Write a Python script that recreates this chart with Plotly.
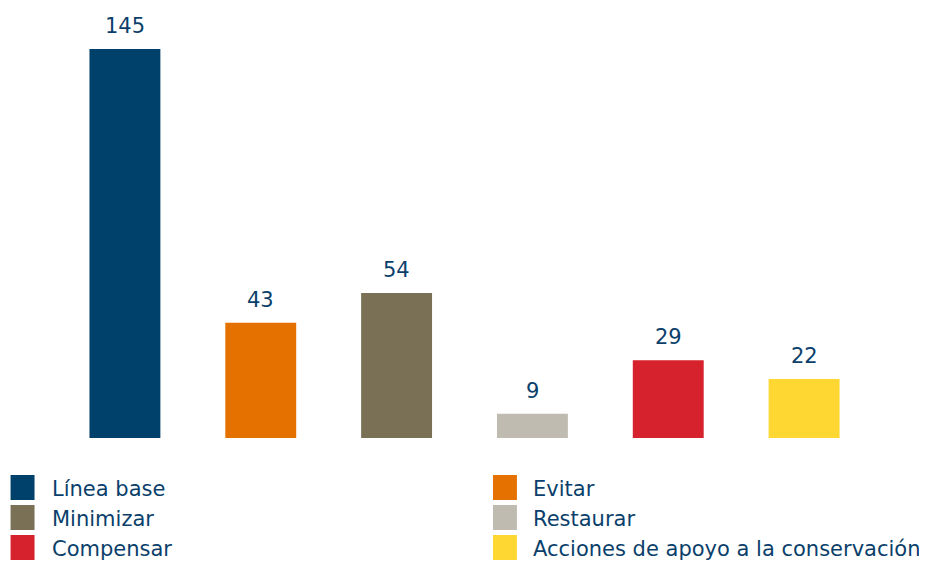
import plotly.graph_objects as go

categories = ["Línea base", "Evitar", "Minimizar", "Restaurar", "Compensar",
              "Acciones de apoyo a la conservación"]
values = [145, 43, 54, 9, 29, 22]
colors = ["#00416B", "#E57200", "#7A7055", "#BFBBB0", "#D6222D", "#FFD732"]
text_color = "#0B3F6B"
font_family = "DejaVu Sans"

OFF = 8  # page body margin
W, H = 927 - OFF, 561 - OFF
ml = 56.5 - OFF
mr = 927 - 872.5
mb = 561 - 438
mt = 0
pw, ph = W - ml - mr, H - mt - mb

def px_x(p):
    return (p - OFF - ml) / pw

def px_y(p):
    return (H - mb - (p - OFF)) / ph

x = list(range(len(categories)))
fig = go.Figure(go.Bar(x=x, y=values, marker=dict(color=colors, line=dict(width=0)),
                       showlegend=False, hoverinfo="skip"))

annotations = []
for xi, v in zip(x, values):
    annotations.append(dict(x=xi, y=v, xref="x", yref="y", text=str(v), showarrow=False,
                            yanchor="bottom", yshift=9,
                            font=dict(size=21, color=text_color, family=font_family)))

shapes = []
col_sq = [10, 493]
col_tx = [49, 531]
row_top = [475, 505, 535]
for i, (cat, col) in enumerate(zip(categories, colors)):
    r, c = divmod(i, 2)
    shapes.append(dict(type="rect", xref="paper", yref="paper",
                       x0=px_x(col_sq[c]), x1=px_x(col_sq[c] + 24),
                       y0=px_y(row_top[r]), y1=px_y(row_top[r] + 25),
                       fillcolor=col, line=dict(width=0)))
    annotations.append(dict(x=px_x(col_tx[c]), y=px_y(row_top[r] + 14), xref="paper", yref="paper",
                            text=cat, showarrow=False, xanchor="left", yanchor="middle",
                            font=dict(size=21, color=text_color, family=font_family)))

fig.update_layout(
    width=W, height=H,
    margin=dict(l=ml, r=mr, t=mt, b=mb, pad=0),
    paper_bgcolor="white", plot_bgcolor="white",
    bargap=0.478,
    xaxis=dict(range=[-0.5, 5.5], visible=False, fixedrange=True),
    yaxis=dict(range=[0, ph / 2.683], visible=False, fixedrange=True),
    annotations=annotations, shapes=shapes,
)
fig.write_html("out.html")
